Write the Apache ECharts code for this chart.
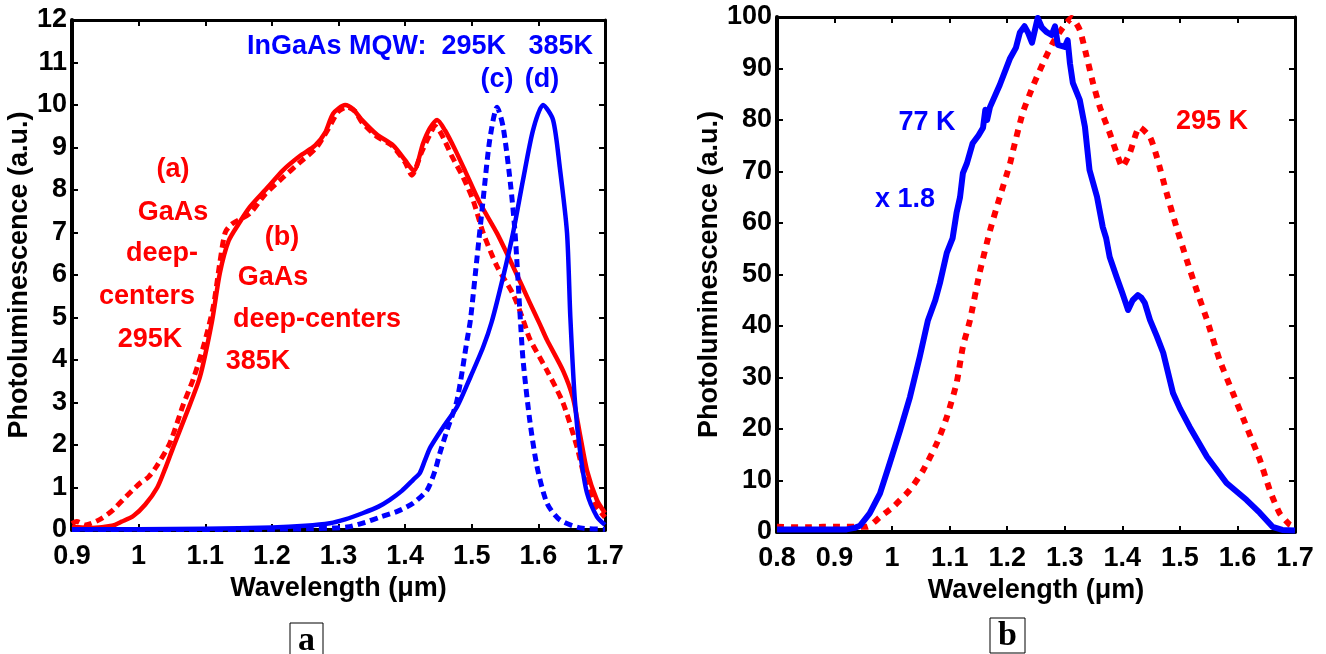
<!DOCTYPE html>
<html>
<head>
<meta charset="utf-8">
<script src="https://cdn.jsdelivr.net/npm/echarts@6/dist/echarts.min.js"></script>
<style>
  html, body { margin: 0; padding: 0; background: #fff; }
  #chart { width: 1326px; height: 654px; }
</style>
</head>
<body>
<div id="chart"></div>
<script>
// ---- Panel a: PL spectra, wavelength (um) vs intensity (a.u.) ----
const gaasDeep295K = [[0.90,0.15],[0.907,0.2],[0.92,0.12],[0.942,0.25],[0.96,0.45],[0.982,0.8],[1.002,1.1],[1.015,1.25],[1.027,1.5],[1.047,2.05],[1.067,2.95],[1.082,3.55],[1.097,4.3],[1.112,5.25],[1.122,6.3],[1.13,7.0],[1.14,7.2],[1.167,7.45],[1.19,7.9],[1.217,8.3],[1.242,8.65],[1.267,9.0],[1.285,9.45],[1.30,9.85],[1.313,9.95],[1.325,9.85],[1.335,9.6],[1.358,9.25],[1.38,9.05],[1.40,8.65],[1.41,8.35],[1.425,8.9],[1.437,9.3],[1.445,9.5],[1.455,9.3],[1.47,8.8],[1.487,8.3],[1.502,7.76],[1.517,7.0],[1.538,6.2],[1.562,5.55],[1.577,4.95],[1.587,4.5],[1.613,3.75],[1.637,2.99],[1.658,1.95],[1.67,1.2],[1.685,0.6],[1.70,0.3]];
const gaasDeep385K = [[0.90,0.07],[0.93,0.05],[0.96,0.1],[0.975,0.2],[0.992,0.33],[1.01,0.6],[1.028,1.0],[1.04,1.45],[1.052,1.95],[1.072,2.75],[1.092,3.6],[1.11,4.9],[1.122,6.05],[1.135,6.8],[1.15,7.2],[1.167,7.6],[1.193,8.05],[1.217,8.47],[1.242,8.8],[1.265,9.05],[1.28,9.35],[1.292,9.8],[1.31,10.0],[1.322,9.9],[1.335,9.65],[1.358,9.3],[1.382,9.05],[1.40,8.7],[1.413,8.45],[1.427,9.1],[1.437,9.45],[1.448,9.65],[1.46,9.4],[1.475,8.95],[1.49,8.45],[1.512,7.7],[1.538,6.98],[1.562,6.2],[1.587,5.35],[1.602,4.85],[1.613,4.47],[1.637,3.75],[1.652,3.1],[1.663,2.2],[1.673,1.4],[1.688,0.7],[1.70,0.4]];
const mqw295K = [[0.90,0.01],[1.1,0.01],[1.2,0.02],[1.26,0.03],[1.313,0.07],[1.34,0.18],[1.362,0.3],[1.39,0.45],[1.412,0.63],[1.433,0.94],[1.445,1.4],[1.452,1.8],[1.463,2.35],[1.478,3.06],[1.493,4.47],[1.498,4.94],[1.508,6.42],[1.517,7.76],[1.527,9.18],[1.538,9.95],[1.547,9.49],[1.558,8.16],[1.565,6.99],[1.573,4.94],[1.577,4.0],[1.587,2.59],[1.598,1.49],[1.613,0.63],[1.632,0.24],[1.663,0.05],[1.70,0.02]];
const mqw385K = [[0.90,0.02],[1.0,0.02],[1.1,0.03],[1.2,0.06],[1.25,0.1],[1.287,0.16],[1.31,0.25],[1.337,0.4],[1.36,0.55],[1.377,0.71],[1.395,0.92],[1.412,1.18],[1.422,1.34],[1.43,1.65],[1.438,1.95],[1.457,2.42],[1.478,2.9],[1.498,3.6],[1.517,4.3],[1.53,4.9],[1.547,5.95],[1.562,6.99],[1.577,8.24],[1.592,9.41],[1.607,10.0],[1.622,9.65],[1.632,8.55],[1.643,6.99],[1.648,5.0],[1.655,3.0],[1.663,1.8],[1.673,0.87],[1.688,0.31],[1.70,0.12]];

// ---- Panel b: 77 K (scaled x1.8) and 295 K spectra ----
const pl77K = [[0.80,0.5],[0.85,0.5],[0.90,0.5],[0.921,0.5],[0.935,0.8],[0.944,1.2],[0.961,3.6],[0.979,7.5],[0.996,13.4],[1.014,19.8],[1.031,26.2],[1.048,34],[1.062,41],[1.075,45],[1.083,48.3],[1.095,54.2],[1.105,57],[1.112,62],[1.118,65],[1.123,69.7],[1.13,71.6],[1.14,75.5],[1.15,77],[1.158,78.5],[1.162,82],[1.165,80],[1.17,82.5],[1.187,86.8],[1.205,92],[1.215,94],[1.222,97],[1.23,98.2],[1.236,97],[1.243,95],[1.253,99.8],[1.26,98],[1.268,97.1],[1.277,96.5],[1.283,98.2],[1.288,94.6],[1.3,94.2],[1.305,95.5],[1.309,91],[1.314,87.2],[1.326,83.9],[1.335,78.7],[1.343,70.3],[1.356,65.1],[1.366,59.2],[1.372,57],[1.378,53.4],[1.39,49.5],[1.4,46.4],[1.41,43.1],[1.418,45],[1.427,46],[1.433,45.5],[1.439,44.5],[1.448,41.2],[1.46,38],[1.471,34.8],[1.488,27],[1.5,24],[1.517,20.4],[1.547,14.6],[1.581,9.5],[1.616,6.2],[1.639,3.7],[1.661,1.0],[1.678,0.4],[1.70,0.3]];
const pl295K = [[0.80,1.0],[0.85,0.9],[0.88,1.0],[0.909,1.0],[0.956,1.0],[0.979,2.9],[1.002,4.9],[1.031,8.2],[1.054,12],[1.078,17.3],[1.095,22.3],[1.112,28.9],[1.123,36],[1.135,41],[1.152,50.3],[1.17,58.5],[1.187,65],[1.205,71.6],[1.21,74],[1.227,81.4],[1.244,86.4],[1.262,91],[1.279,94.9],[1.297,98],[1.312,99.8],[1.326,97.5],[1.338,92.3],[1.349,87.2],[1.361,82.5],[1.378,77.5],[1.39,73.6],[1.40,70.9],[1.413,73.6],[1.43,78.6],[1.448,76.7],[1.46,72.8],[1.477,65.8],[1.494,59.2],[1.512,52.8],[1.529,47],[1.547,41.2],[1.569,33.4],[1.592,27],[1.616,20.4],[1.639,14],[1.656,8.2],[1.673,3.7],[1.691,1.4],[1.70,1.0]];

// Axis ranges and captions
const xRangeA = [0.9, 1.7];
const yRangeA = [0, 12];
const xRangeB = [0.8, 1.7];
const yRangeB = [0, 100];
const xTitle = 'Wavelength (\u03bcm)';
const yTitle = 'Photoluminescence (a.u.)';

const FONT = "'Liberation Sans', Arial, Helvetica, sans-serif";
const BLUE = '#0000ff';
const RED = '#ff0000';

const fmtX = v => String(Math.round(v * 10) / 10);

function xAxisPair(grid, range) {
  const common = {
    gridIndex: grid, type: 'value', min: range[0], max: range[1], interval: 0.1,
    splitLine: { show: false },
    axisTick: { inside: true, length: 6, lineStyle: { color: '#000', width: 2 } }
  };
  return [
    Object.assign({}, common, {
      position: 'bottom',
      axisLine: { show: true, onZero: false, lineStyle: { color: '#000', width: 4 } },
      axisLabel: { show: true, margin: 13, color: '#000', fontSize: 27, fontWeight: 'bold', fontFamily: FONT,
                   formatter: fmtX, showMinLabel: true, showMaxLabel: true },
      name: xTitle, nameLocation: 'middle', nameGap: 34,
      nameTextStyle: { color: '#000', fontSize: 27, fontWeight: 'bold', fontFamily: FONT }
    }),
    Object.assign({}, common, {
      position: 'top',
      axisLine: { show: true, onZero: false, lineStyle: { color: '#000', width: 3 } },
      axisLabel: { show: false }
    })
  ];
}

function yAxisPair(grid, range, step) {
  const common = {
    gridIndex: grid, type: 'value', min: range[0], max: range[1], interval: step,
    splitLine: { show: false },
    axisTick: { inside: true, length: 6, lineStyle: { color: '#000', width: 2 } }
  };
  return [
    Object.assign({}, common, {
      position: 'left',
      axisLine: { show: true, onZero: false, lineStyle: { color: '#000', width: 4 } },
      axisLabel: { show: true, margin: 5, color: '#000', fontSize: 27, fontWeight: 'bold', fontFamily: FONT,
                   showMinLabel: true, showMaxLabel: true },
      name: yTitle, nameLocation: 'middle', nameGap: grid === 0 ? 36 : 52,
      nameTextStyle: { color: '#000', fontSize: 27, fontWeight: 'bold', fontFamily: FONT }
    }),
    Object.assign({}, common, {
      position: 'right',
      axisLine: { show: true, onZero: false, lineStyle: { color: '#000', width: 3 } },
      axisLabel: { show: false }
    })
  ];
}

function curve(name, data, xIdx, yIdx, color, width, dash, smooth) {
  return {
    name, type: 'line', data, xAxisIndex: xIdx, yAxisIndex: yIdx,
    showSymbol: false, symbol: 'none', smooth: smooth, animation: false,
    lineStyle: { color, width, type: dash || 'solid', cap: 'butt', join: 'round' },
    z: 3
  };
}

function label(text, x, y, color, size) {
  return {
    type: 'text', x, y, z: 10,
    style: { text, fill: color, font: 'bold ' + (size || 27) + 'px ' + FONT, align: 'center', verticalAlign: 'middle' }
  };
}

function panelTag(letter, x, y, w, h) {
  return {
    type: 'group', children: [
      { type: 'rect', shape: { x, y, width: w, height: h }, style: { fill: '#fff', stroke: '#000', lineWidth: 1 } },
      { type: 'text', x: x + w / 2, y: y + h / 2 + 1,
        style: { text: letter, fill: '#000', font: 'bold 34px "Liberation Serif", "Times New Roman", serif',
                 align: 'center', verticalAlign: 'middle' } }
    ]
  };
}

const chart = echarts.init(document.getElementById('chart'), null, { renderer: 'canvas' });

chart.setOption({
  backgroundColor: '#fff',
  animation: false,
  grid: [
    { left: 72, top: 20, width: 533, height: 510, containLabel: false },
    { left: 777, top: 17, width: 518, height: 515, containLabel: false }
  ],
  xAxis: [...xAxisPair(0, xRangeA), ...xAxisPair(1, xRangeB)],
  yAxis: [...yAxisPair(0, yRangeA, 1), ...yAxisPair(1, yRangeB, 10)],
  series: [
    curve('GaAs deep-centers 295K', gaasDeep295K, 0, 0, RED, 5, [8, 5], 0.25),
    curve('GaAs deep-centers 385K', gaasDeep385K, 0, 0, RED, 4.5, 'solid', 0.25),
    curve('InGaAs MQW 295K', mqw295K, 0, 0, BLUE, 5, [8, 5], 0.25),
    curve('InGaAs MQW 385K', mqw385K, 0, 0, BLUE, 4.5, 'solid', 0.25),
    curve('295 K', pl295K, 2, 2, RED, 6, [7, 7], 0.2),
    curve('77 K x 1.8', pl77K, 2, 2, BLUE, 6, 'solid', false)
  ],
  graphic: [
    label('InGaAs MQW:  295K   385K', 420, 47, BLUE),
    label('(c)', 497, 80, BLUE),
    label('(d)', 542, 80, BLUE),
    label('(a)', 173, 170, RED),
    label('GaAs', 173, 213, RED),
    label('deep-', 162, 254, RED),
    label('centers', 147, 297, RED),
    label('295K', 150, 340, RED),
    label('(b)', 282, 238, RED),
    label('GaAs', 273, 278, RED),
    label('deep-centers', 317, 320, RED),
    label('385K', 258, 362, RED),
    label('77 K', 927, 123, BLUE),
    label('x 1.8', 905, 200, BLUE),
    label('295 K', 1212, 122, RED),
    panelTag('a', 290, 623, 33, 34),
    panelTag('b', 990, 618, 35, 35)
  ]
});
</script>
</body>
</html>
